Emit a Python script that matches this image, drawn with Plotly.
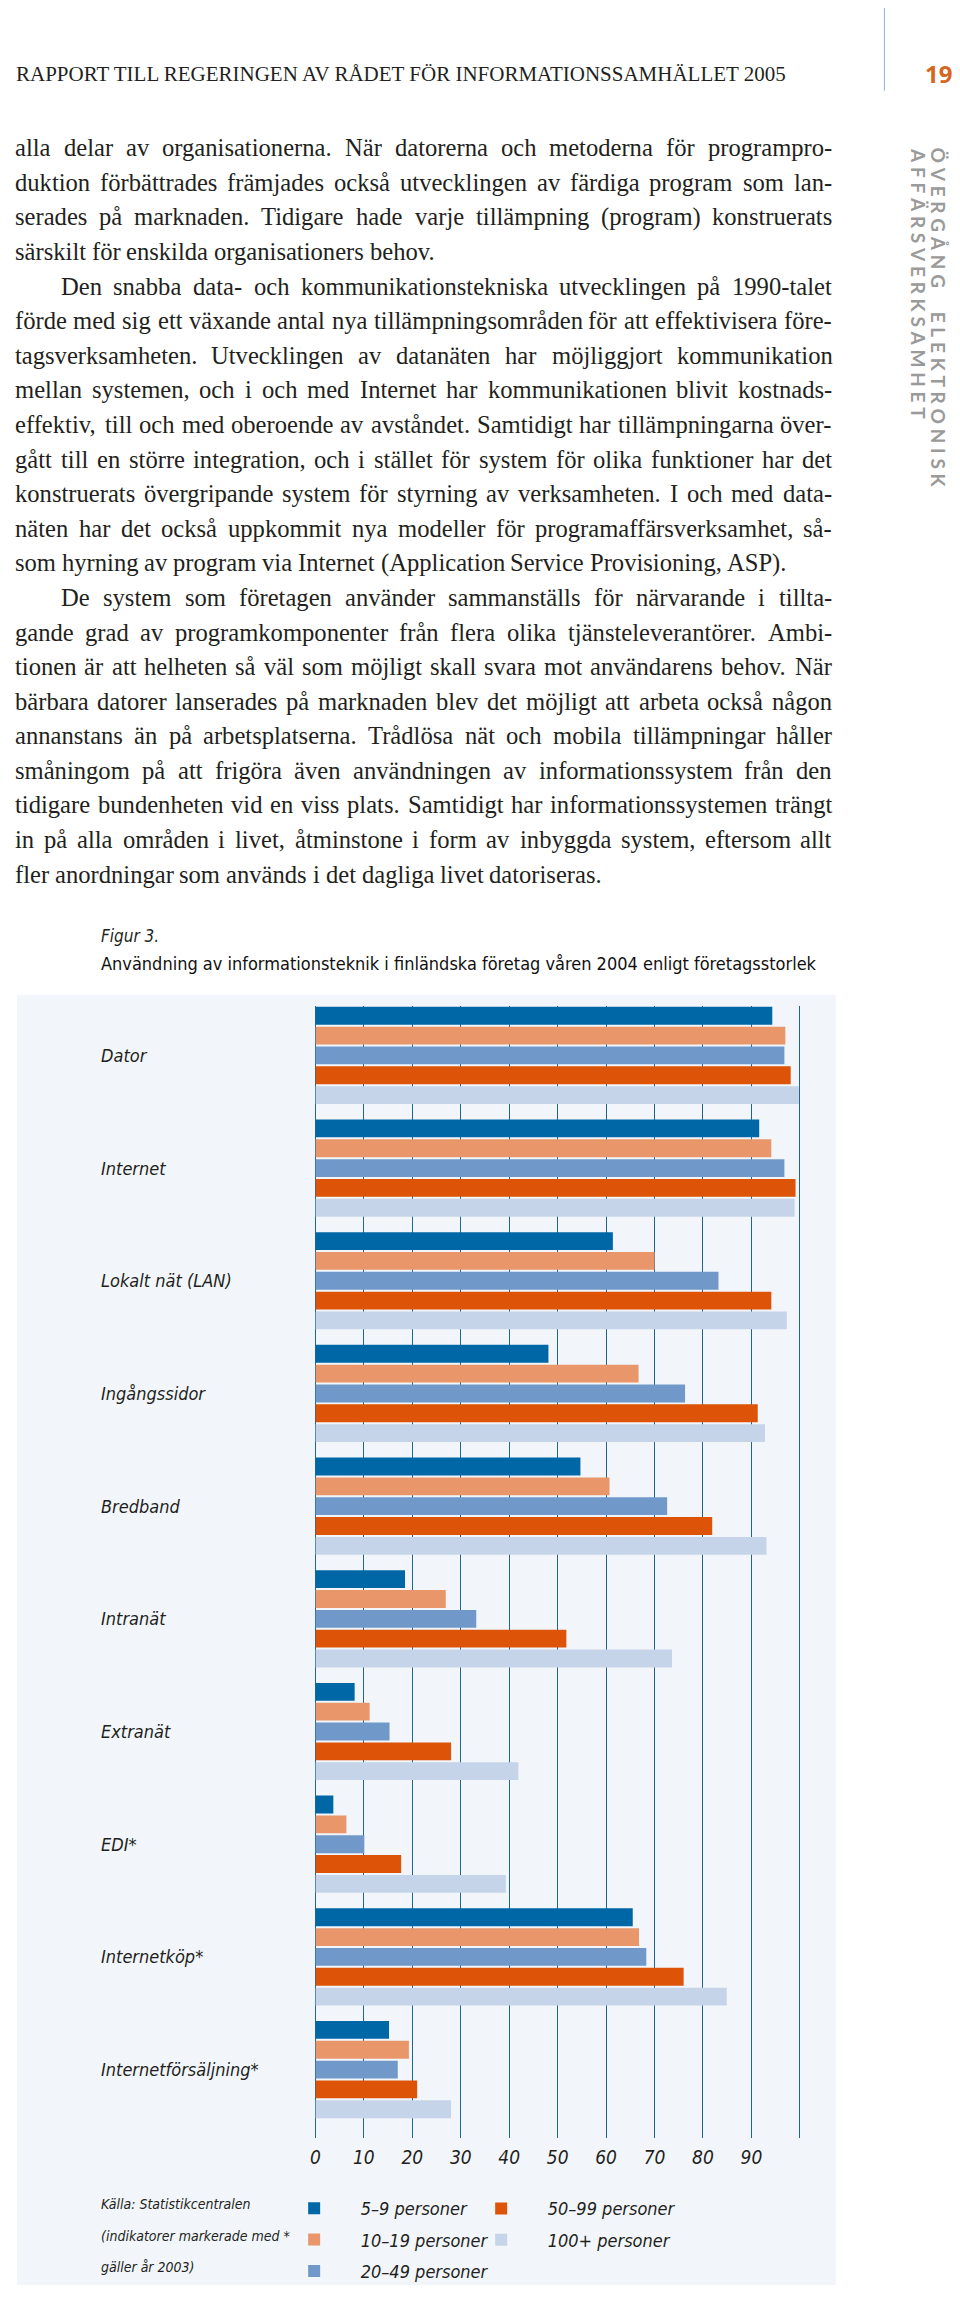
import plotly.graph_objects as go

# ---------------- data ----------------
categories = ["Dator", "Internet", "Lokalt nät (LAN)", "Ingångssidor", "Bredband",
              "Intranät", "Extranät", "EDI*", "Internetköp*", "Internetförsäljning*"]
series_names = ["5–9 personer", "10–19 personer", "20–49 personer",
                "50–99 personer", "100+ personer"]
v_5_9   = [94.3, 91.6, 61.4, 48.1, 54.7, 18.5,  8.1,  3.7, 65.5, 15.2]
v_10_19 = [97.0, 94.1, 70.0, 66.7, 60.7, 26.9, 11.2,  6.4, 66.8, 19.3]
v_20_49 = [96.8, 96.8, 83.2, 76.3, 72.6, 33.2, 15.3, 10.1, 68.3, 17.0]
v_50_99 = [98.1, 99.1, 94.1, 91.3, 81.9, 51.8, 28.0, 17.7, 76.0, 21.0]
v_100   = [99.8, 98.9, 97.3, 92.8, 93.1, 73.6, 41.9, 39.3, 84.9, 28.0]
tick_values = [0, 10, 20, 30, 40, 50, 60, 70, 80, 90, 100]
tick_labels = ["0", "10", "20", "30", "40", "50", "60", "70", "80", "90", ""]

header_text = "RAPPORT TILL REGERINGEN AV RÅDET FÖR INFORMATIONSSAMHÄLLET 2005"
page_number = "19"
side_text_1 = "ÖVERGÅNG ELEKTRONISK"
side_text_2 = "AFFÄRSVERKSAMHET"
# (text, indented, last line of paragraph)
body_lines = [
    ("alla delar av organisationerna. När datorerna och metoderna för programpro-", False, False),
    ("duktion förbättrades främjades också utvecklingen av färdiga program som lan-", False, False),
    ("serades på marknaden. Tidigare hade varje tillämpning (program) konstruerats", False, False),
    ("särskilt för enskilda organisationers behov.", False, True),
    ("Den snabba data- och kommunikationstekniska utvecklingen på 1990-talet", True, False),
    ("förde med sig ett växande antal nya tillämpningsområden för att effektivisera före-", False, False),
    ("tagsverksamheten. Utvecklingen av datanäten har möjliggjort kommunikation", False, False),
    ("mellan systemen, och i och med Internet har kommunikationen blivit kostnads-", False, False),
    ("effektiv, till och med oberoende av avståndet. Samtidigt har tillämpningarna över-", False, False),
    ("gått till en större integration, och i stället för system för olika funktioner har det", False, False),
    ("konstruerats övergripande system för styrning av verksamheten. I och med data-", False, False),
    ("näten har det också uppkommit nya modeller för programaffärsverksamhet, så-", False, False),
    ("som hyrning av program via Internet (Application Service Provisioning, ASP).", False, True),
    ("De system som företagen använder sammanställs för närvarande i tillta-", True, False),
    ("gande grad av programkomponenter från flera olika tjänsteleverantörer. Ambi-", False, False),
    ("tionen är att helheten så väl som möjligt skall svara mot användarens behov. När", False, False),
    ("bärbara datorer lanserades på marknaden blev det möjligt att arbeta också någon", False, False),
    ("annanstans än på arbetsplatserna. Trådlösa nät och mobila tillämpningar håller", False, False),
    ("småningom på att frigöra även användningen av informationssystem från den", False, False),
    ("tidigare bundenheten vid en viss plats. Samtidigt har informationssystemen trängt", False, False),
    ("in på alla områden i livet, åtminstone i form av inbyggda system, eftersom allt", False, False),
    ("fler anordningar som används i det dagliga livet datoriseras.", False, True),
]
fig_label = "Figur 3."
fig_title = "Användning av informationsteknik i finländska företag våren 2004 enligt företagsstorlek"
source_lines = ["Källa: Statistikcentralen", "(indikatorer markerade med *", "gäller år 2003)"]

# ---------------- styles ----------------
colors = ["#0067a6", "#e8966a", "#7099c9", "#dd5308", "#c5d4e8"]
series_values = [v_5_9, v_10_19, v_20_49, v_50_99, v_100]
legend_ids = ["legend", "legend", "legend", "legend2", "legend2"]

SERIF = "Liberation Serif, Times New Roman, serif"
COND = "Liberation Sans Narrow, DejaVu Sans Condensed, Roboto Condensed, Roboto, sans-serif"
TXT = "#231f20"

# figure is offset by the 8px default body margin of the page
OFF = 8
W, H = 952, 2282


def px(x):  # page pixel -> paper x
    return (x - OFF) / W


def py(y):  # page pixel -> paper y
    return 1 - (y - OFF) / H


# Times / Liberation Serif advance widths (1/1000 em) for justified typesetting
_TW = {" ": 250, "a": 444, "b": 500, "c": 444, "d": 500, "e": 444, "f": 333, "g": 500, "h": 500,
       "i": 278, "j": 278, "k": 500, "l": 278, "m": 778, "n": 500, "o": 500, "p": 500, "q": 500,
       "r": 333, "s": 389, "t": 278, "u": 500, "v": 500, "w": 722, "x": 500, "y": 500, "z": 444,
       "å": 444, "ä": 444, "ö": 500, "é": 444,
       "A": 722, "B": 667, "C": 667, "D": 722, "E": 611, "F": 556, "G": 722, "H": 722, "I": 333,
       "J": 389, "K": 722, "L": 611, "M": 889, "N": 722, "O": 722, "P": 556, "Q": 722, "R": 667,
       "S": 556, "T": 611, "U": 722, "V": 722, "W": 944, "X": 722, "Y": 722, "Z": 611,
       "Å": 722, "Ä": 722, "Ö": 722,
       ".": 250, ",": 250, "-": 333, "(": 333, ")": 333, ":": 278, "*": 500}


def text_width(s, size):
    return sum(_TW.get(ch, 500) for ch in s) * size / 1000.0


fig = go.Figure()
for name, vals, col, lg in zip(series_names, series_values, colors, legend_ids):
    fig.add_trace(go.Bar(
        y=categories, x=vals, name=name, orientation="h",
        marker=dict(color=col, line=dict(width=0)),
        legend=lg, legendgroup=name,
    ))

annotations = []
# header
annotations.append(dict(text=header_text, x=px(9), y=py(74), xref="paper", yref="paper",
                        xanchor="left", yanchor="middle", showarrow=False,
                        font=dict(family=SERIF, size=21, color=TXT)))
annotations.append(dict(text="<b>" + page_number + "</b>", x=px(938), y=py(74), xref="paper", yref="paper",
                        xanchor="center", yanchor="middle", showarrow=False,
                        font=dict(family="Open Sans, DejaVu Sans, sans-serif", size=24, color="#d6651f")))


def spaced(s):
    return "\u2009\u2009".join(ch if ch != " " else "\u2003" for ch in s)


for txt, xx in ((side_text_1, 938), (side_text_2, 919)):
    annotations.append(dict(text="<b>" + spaced(txt) + "</b>", x=px(xx), y=py(146), xref="paper", yref="paper",
                            xanchor="center", yanchor="top", showarrow=False, textangle=90,
                            font=dict(family="Lato, Open Sans, sans-serif", size=19, color="#9a9a9a")))

# body text, justified word by word
BODY_SIZE = 24.6
LEFT, RIGHT, INDENT = 10, 831, 46
line0, step = 148, 34.67
for i, (ln, indented, last) in enumerate(body_lines):
    yy = py(line0 + i * step)
    start = LEFT + (INDENT if indented else 0)
    words = ln.split(" ")
    widths = [text_width(w, BODY_SIZE) for w in words]
    space = text_width(" ", BODY_SIZE)
    if not last and len(words) > 1:
        space = (RIGHT - start - sum(widths)) / (len(words) - 1)
    xcur = start
    for w, wd in zip(words, widths):
        annotations.append(dict(text=w, x=px(xcur), y=yy, xref="paper", yref="paper",
                                xanchor="left", yanchor="middle", showarrow=False,
                                borderpad=0, borderwidth=0,
                                font=dict(family=SERIF, size=BODY_SIZE, color=TXT)))
        xcur += wd + space

# figure caption
annotations.append(dict(text="<i>" + fig_label + "</i>", x=px(94), y=py(938), xref="paper", yref="paper",
                        xanchor="left", yanchor="middle", showarrow=False,
                        font=dict(family=COND, size=17, color=TXT)))
annotations.append(dict(text=fig_title, x=px(94), y=py(966), xref="paper", yref="paper",
                        xanchor="left", yanchor="middle", showarrow=False,
                        font=dict(family=COND, size=18, color="#111111", weight=500)))
# category labels
for c in categories:
    annotations.append(dict(text="<i>" + c + "</i>", x=px(94), y=c, xref="paper", yref="y",
                            xanchor="left", yanchor="middle", showarrow=False,
                            font=dict(family=COND, size=18, color=TXT)))
# source
for i, s in enumerate(source_lines):
    annotations.append(dict(text="<i>" + s + "</i>", x=px(94), y=py(2209 + i * 31.5), xref="paper", yref="paper",
                            xanchor="left", yanchor="middle", showarrow=False,
                            font=dict(family=COND, size=14, color=TXT)))

shapes = [
    dict(type="rect", xref="paper", yref="paper", x0=px(12), x1=px(835), y0=0, y1=py(997),
         fillcolor="#f2f6fb", line=dict(width=0), layer="below"),
    dict(type="line", xref="paper", yref="paper", x0=px(884), x1=px(884), y0=py(91), y1=1,
         line=dict(color="#8fb3d3", width=1)),
]

grid_col = "#1f6590"
legend_common = dict(xanchor="left", yanchor="top", bgcolor="rgba(0,0,0,0)",
                     font=dict(family=COND, size=18, color=TXT, style="italic"),
                     tracegroupgap=5, itemwidth=83, traceorder="grouped")
fig.update_layout(
    width=W, height=H, autosize=False,
    margin=dict(l=0, r=0, t=0, b=0),
    paper_bgcolor="white", plot_bgcolor="rgba(0,0,0,0)",
    barmode="group", bargap=0.12, bargroupgap=0.1,
    showlegend=True,
    xaxis=dict(domain=[px(312), px(801)], range=[0, 100.4], tickvals=tick_values, ticktext=tick_labels,
               showgrid=True, gridcolor=grid_col, gridwidth=1, zeroline=True, zerolinecolor=grid_col,
               zerolinewidth=1, showline=False, ticks="", ticklabelstandoff=6,
               tickfont=dict(family=COND, size=19, color=TXT, style="italic"), fixedrange=True),
    yaxis=dict(domain=[py(2143), py(1008)], type="category", categoryorder="array",
               categoryarray=categories, range=[9.61, -0.44], showgrid=False, zeroline=False,
               showticklabels=False, ticks="", showline=False, fixedrange=True),
    legend=dict(x=px(264), y=py(2195), **legend_common),
    legend2=dict(x=px(452), y=py(2195), **legend_common),
    annotations=annotations,
    shapes=shapes,
)

fig.write_html("out.html")
